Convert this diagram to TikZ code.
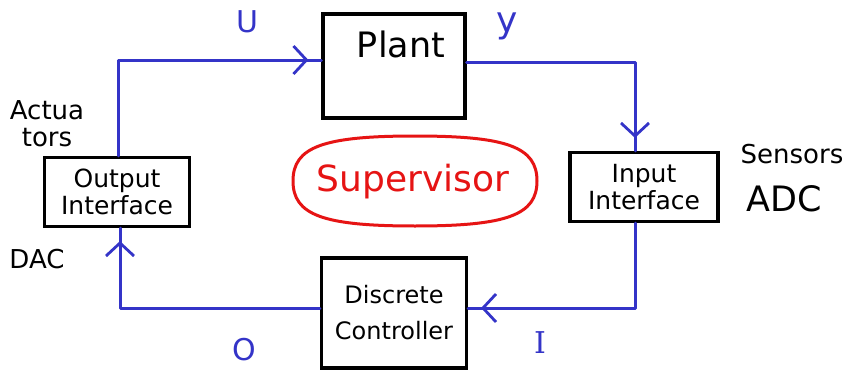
\documentclass[tikz,border=0pt]{standalone}
\usepackage{fontspec}
\setmainfont{DejaVu Sans}
\newfontfamily\serifI{DejaVu Serif}
\usetikzlibrary{decorations.markings,arrows.meta,calc}
\definecolor{penblue}{RGB}{52,52,200}
\definecolor{penred}{RGB}{230,20,20}
\tikzset{
  blockbox/.style={draw=black,line width=3.2pt,inner sep=0pt,align=center,font=\fontsize{25}{27}\selectfont},
  wire/.style={draw=penblue,line width=3pt,line join=round,line cap=round},
  wirearrow/.style={wire,postaction={decorate},decoration={markings,mark=at position -13pt with {\arrow[penblue,line width=2.8pt]{Straight Barb[length=13pt,width=28pt]}}}},
  siglabel/.style={text=penblue,font=\fontsize{30}{30}\selectfont},
  ovalline/.style={draw=penred,line width=3pt}
}
\begin{document}
\begin{tikzpicture}[x=1pt,y=-1pt]
\useasboundingbox[fill=white] (0,0) rectangle (847,372);
\node[blockbox,minimum width=142pt,minimum height=104pt] (plant) at (394,66) {};
\node[font=\fontsize{35}{36}\selectfont] (plantlbl) at (401,44) {Plant};
\node[blockbox,minimum width=145pt,minimum height=69pt] (outif) at (117,192) {Output\\Interface};
\node[blockbox,minimum width=148pt,minimum height=69pt] (inif) at (644,187) {Input\\Interface};
\node[blockbox,font=\fontsize{24}{36}\selectfont,minimum width=145pt,minimum height=110pt] (ctrl) at (394,313) {Discrete\\Controller};
\node[inner sep=0pt,text=penred,font=\fontsize{36}{38}\selectfont] (sup) at (413,182) {Supervisor};
\coordinate (oc) at (415,181);
\draw[ovalline] ($(oc)+(122,0)$) .. controls ($(oc)+(122,-34)$) and ($(oc)+(92,-45)$) .. ($(oc)+(0,-45)$)
  .. controls ($(oc)+(-92,-45)$) and ($(oc)+(-122,-34)$) .. ($(oc)+(-122,0)$)
  .. controls ($(oc)+(-122,34)$) and ($(oc)+(-92,45)$) .. ($(oc)+(0,45)$)
  .. controls ($(oc)+(92,45)$) and ($(oc)+(122,34)$) .. cycle;
\coordinate (c1) at (118,60);
\coordinate (c2) at (635,62);
\coordinate (c3) at (635,308);
\coordinate (c4) at (120,308);
\draw[wirearrow] (outif.north -| c1) -- (c1) -- (plant.west |- c1);
\draw[wirearrow] (plant.east |- c2) -- (c2) -- (inif.north -| c2);
\draw[wirearrow] (inif.south -| c3) -- (c3) -- (ctrl.east |- c3);
\draw[wirearrow] (ctrl.west |- c4) -- (c4) -- (outif.south -| c4);
\node[siglabel] (u) at (247,22) {U};
\node[siglabel,font=\fontsize{36}{36}\selectfont] (y) at (507,26) {y};
\node[siglabel] (o) at (244,350) {O};
\node[siglabel,font=\fontsize{30}{30}\serifI] (i) at (540,343) {I};
\node[font=\fontsize{26}{27}\selectfont,align=left,inner sep=0pt] (act) at (47,124) {Actua\\\hspace{12pt}tors};
\node[font=\fontsize{26}{26}\selectfont] (dac) at (37,259) {DAC};
\node[font=\fontsize{26}{26}\selectfont] (sens) at (792,154) {Sensors};
\node[font=\fontsize{35}{35}\selectfont] (adc) at (784,199) {ADC};
\end{tikzpicture}
\end{document}
